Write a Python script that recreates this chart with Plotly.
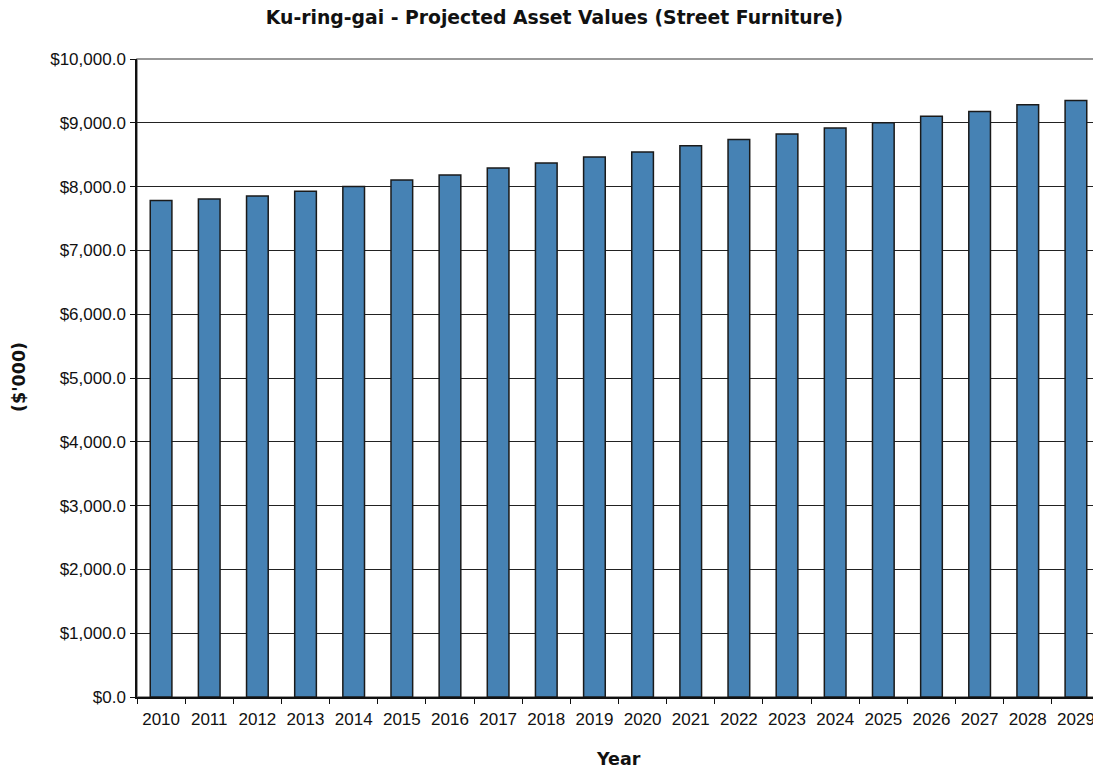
import plotly.graph_objects as go

years = [str(y) for y in range(2010, 2030)]
values = [7784, 7804, 7851, 7929, 8003, 8102, 8183, 8292, 8370, 8464,
          8542, 8640, 8739, 8823, 8917, 9000, 9104, 9177, 9281, 9348]
y_ticks = [0, 1000, 2000, 3000, 4000, 5000, 6000, 7000, 8000, 9000, 10000]
y_labels = ["$%s" % format(v, ",.1f") for v in y_ticks]

fig = go.Figure()
fig.add_trace(go.Bar(
    x=years, y=values,
    marker=dict(color="#4682B4", line=dict(color="#1a1a1a", width=1.5)),
    width=0.45,
))

PH = 638  # plot height in px
fig.update_layout(
    width=1093, height=764,
    margin=dict(l=129, r=1, t=51, b=75),
    paper_bgcolor="white", plot_bgcolor="white",
    showlegend=False,
    title=dict(text="<b>Ku-ring-gai - Projected Asset Values (Street Furniture)</b>",
               x=0.5, xanchor="center", y=0.988, yanchor="middle",
               font=dict(family="DejaVu Sans", size=18.8, color="#111")),
    font=dict(family="Liberation Sans, Arial", size=17, color="#111"),
    annotations=[
        dict(text="<b>Year</b>", xref="paper", yref="paper", x=0.5, y=-(759 - 697) / PH,
             xanchor="center", yanchor="middle", showarrow=False,
             font=dict(family="DejaVu Sans", size=17.5, color="#111")),
        dict(text="<b>($'000)</b>", xref="paper", yref="paper", x=-(137 - 19) / 963, y=(697 - 377) / PH,
             xanchor="center", yanchor="middle", showarrow=False, textangle=-90,
             font=dict(family="DejaVu Sans", size=17.5, color="#111")),
    ],
)
fig.update_xaxes(
    type="category", tickson="boundaries", ticks="outside", ticklen=5,
    tickcolor="#111", showline=True, linecolor="#111", linewidth=1.5,
    showgrid=False, mirror=False, ticklabelstandoff=6,
    tickfont=dict(size=17),
)
fig.update_yaxes(
    range=[0, 10000], tickvals=y_ticks, ticktext=y_labels,
    ticks="outside", ticklen=5, tickcolor="#111",
    showline=True, linecolor="#111", linewidth=1.5,
    showgrid=True, gridcolor="#222", gridwidth=1.2,
    zeroline=False, ticklabelstandoff=1,
    tickfont=dict(size=17),
)
# plot frame (top/right)
fig.add_shape(type="rect", xref="paper", yref="paper", x0=0, y0=0, x1=1, y1=1,
              line=dict(color="#777", width=1.5), layer="below")

fig.write_html("out.html")
